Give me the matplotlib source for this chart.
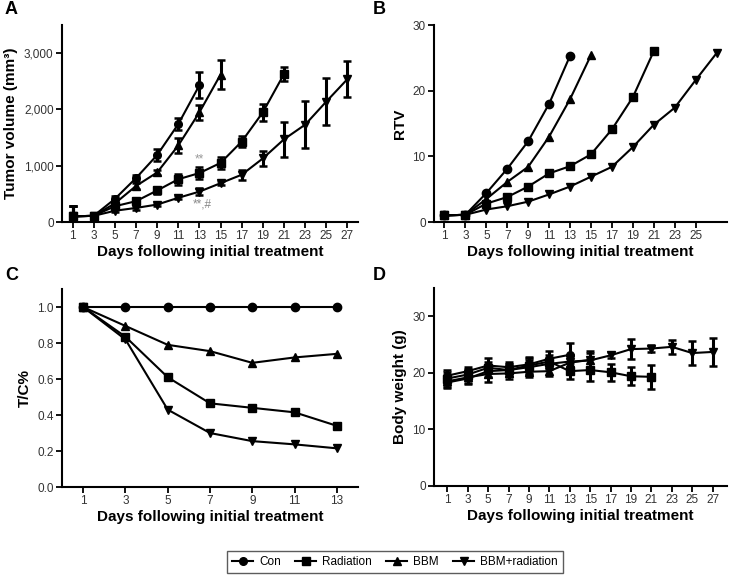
import matplotlib
matplotlib.use("Agg")
import matplotlib.pyplot as plt
from matplotlib.ticker import FuncFormatter
from matplotlib.lines import Line2D

plt.rcParams['font.family'] = ['Liberation Sans', 'DejaVu Sans']

groups = ["Con", "Radiation", "BBM", "BBM+radiation"]
markers = {"Con": "o", "Radiation": "s", "BBM": "^", "BBM+radiation": "v"}

# Panel A: tumor volume (mm3)
a_days = {
    "Con": [1, 3, 5, 7, 9, 11, 13],
    "BBM": [1, 3, 5, 7, 9, 11, 13, 15],
    "Radiation": [1, 3, 5, 7, 9, 11, 13, 15, 17, 19, 21],
    "BBM+radiation": [1, 3, 5, 7, 9, 11, 13, 15, 17, 19, 21, 23, 25, 27],
}
a_mean = {
    "Con": [100, 110, 410, 780, 1190, 1740, 2430],
    "BBM": [100, 110, 330, 640, 880, 1360, 1950, 2620],
    "Radiation": [100, 110, 280, 370, 560, 760, 870, 1050, 1430, 1950, 2630],
    "BBM+radiation": [100, 110, 200, 250, 310, 430, 540, 690, 840, 1130, 1470, 1730, 2140, 2540],
}
a_err = {
    "Con": [180, 30, 50, 60, 100, 100, 230],
    "BBM": [180, 30, 40, 50, 40, 130, 130, 250],
    "Radiation": [180, 30, 40, 60, 70, 100, 110, 100, 100, 150, 120],
    "BBM+radiation": [180, 30, 30, 30, 30, 30, 60, 30, 90, 130, 310, 420, 420, 315],
}

# Panel B: relative tumor volume
b_mean = {
    "Con": [1.0, 1.1, 4.4, 8.1, 12.3, 18.0, 25.3],
    "BBM": [1.0, 1.1, 3.5, 6.1, 8.4, 13.0, 18.7, 25.4],
    "Radiation": [1.0, 1.1, 2.8, 3.8, 5.4, 7.4, 8.5, 10.3, 14.1, 19.0, 26.0],
    "BBM+radiation": [1.0, 1.1, 1.9, 2.4, 3.1, 4.2, 5.4, 6.9, 8.4, 11.4, 14.8, 17.4, 21.6, 25.7],
}

# Panel C: T/C%
c_days = [1, 3, 5, 7, 9, 11, 13]
c_vals = {
    "Con": [1.0, 1.0, 1.0, 1.0, 1.0, 1.0, 1.0],
    "Radiation": [1.0, 0.835, 0.61, 0.465, 0.44, 0.415, 0.34],
    "BBM": [1.0, 0.895, 0.79, 0.755, 0.69, 0.72, 0.74],
    "BBM+radiation": [1.0, 0.82, 0.43, 0.30, 0.255, 0.237, 0.215],
}

# Panel D: body weight (g)
d_mean = {
    "Con": [19.5, 20.3, 21.3, 21.0, 21.5, 22.5, 23.2],
    "BBM": [18.5, 19.2, 19.8, 19.9, 20.2, 20.3, 21.8, 22.3],
    "Radiation": [19.0, 19.7, 20.9, 20.5, 21.3, 22.0, 20.3, 20.5, 20.1, 19.4, 19.3],
    "BBM+radiation": [18.3, 19.0, 20.3, 20.5, 21.0, 21.6, 22.0, 22.2, 23.1, 24.2, 24.3, 24.6, 23.5, 23.7],
}
d_err = {
    "Con": [1.0, 0.8, 1.4, 1.0, 1.2, 1.4, 2.1],
    "BBM": [1.0, 1.0, 1.5, 0.9, 1.0, 0.8, 1.3, 1.5],
    "Radiation": [1.2, 1.0, 1.0, 1.0, 1.5, 1.2, 1.4, 2.0, 1.5, 1.6, 2.1],
    "BBM+radiation": [1.0, 1.0, 1.0, 1.0, 1.2, 1.0, 1.0, 1.3, 0.5, 1.7, 0.7, 1.2, 2.1, 2.4],
}

xlabel = "Days following initial treatment"

fig = plt.figure(figsize=(7.31, 5.75), dpi=100)
axA = fig.add_axes([0.0848, 0.6139, 0.405, 0.3426])
axB = fig.add_axes([0.5937, 0.6139, 0.4008, 0.3426])
axC = fig.add_axes([0.0848, 0.153, 0.405, 0.3443])
axD = fig.add_axes([0.5937, 0.1548, 0.4008, 0.3443])

def style(ax):
    for s in ["top", "right"]:
        ax.spines[s].set_visible(False)
    for s in ["left", "bottom"]:
        ax.spines[s].set_linewidth(1.5)
    ax.tick_params(axis="both", direction="out", width=1.3, length=4,
                   labelsize=8.5, labelcolor="#333333", pad=2)
    ax.set_xlabel(xlabel, fontsize=11, fontweight="bold", labelpad=2)

kw = dict(color="black", lw=1.5, ms=5.5, capsize=3.0, elinewidth=2.2, capthick=1.8)

# A
for g in groups:
    axA.errorbar(a_days[g], a_mean[g], yerr=a_err[g], marker=markers[g], **kw)
axA.set_xlim(0, 28)
axA.set_ylim(0, 3500)
axA.set_xticks(list(range(1, 28, 2)))
axA.set_yticks([0, 1000, 2000, 3000])
axA.yaxis.set_major_formatter(FuncFormatter(lambda v, p: f"{int(v):,}"))
axA.set_ylabel("Tumor volume (mm³)", fontsize=11, fontweight="bold")
style(axA)
axA.text(13, 1000, "**", ha="center", va="bottom", fontsize=8.5, color="#999999")
axA.text(13.3, 420, "**,#", ha="center", va="top", fontsize=8.5, color="#888888")

# B
for g in groups:
    axB.plot(a_days[g], b_mean[g], marker=markers[g], color="black", lw=1.5, ms=6)
axB.set_xlim(0, 28)
axB.set_ylim(0, 30)
axB.set_xticks(list(range(1, 26, 2)))
axB.set_yticks([0, 10, 20, 30])
axB.set_ylabel("RTV", fontsize=11, fontweight="bold")
style(axB)

# C
for g in groups:
    axC.plot(c_days, c_vals[g], marker=markers[g], color="black", lw=1.5, ms=6)
axC.set_xlim(0, 14)
axC.set_ylim(0, 1.1)
axC.set_xticks(c_days)
axC.set_yticks([0.0, 0.2, 0.4, 0.6, 0.8, 1.0])
axC.yaxis.set_major_formatter(FuncFormatter(lambda v, p: f"{v:.1f}"))
axC.set_ylabel("T/C%", fontsize=11, fontweight="bold")
style(axC)

# D
for g in groups:
    axD.errorbar(a_days[g], d_mean[g], yerr=d_err[g], marker=markers[g], **kw)
axD.set_xlim(-0.3, 28.4)
axD.set_ylim(0, 35)
axD.set_xticks(list(range(1, 28, 2)))
axD.set_yticks([0, 10, 20, 30])
axD.set_ylabel("Body weight (g)", fontsize=11, fontweight="bold")
style(axD)

# Panel letters
for x, y, t in [(5, 10, "A"), (373, 10, "B"), (5, 276, "C"), (373, 276, "D")]:
    fig.text(x / 731, 1 - y / 575, t, fontsize=13, fontweight="bold", va="center", ha="left")

# Legend
handles = [Line2D([0], [0], color="black", lw=1.5, marker=markers[g], ms=5.5) for g in groups]
leg = fig.legend(handles, groups, loc="center", bbox_to_anchor=(395 / 731, 1 - 562 / 575),
                 ncol=4, fontsize=8.5, frameon=True, fancybox=False, handlelength=1.8,
                 columnspacing=1.2, handletextpad=0.5, borderpad=0.4)
leg.get_frame().set_edgecolor("#333333")
leg.get_frame().set_linewidth(1.0)

fig.savefig("out.png", dpi=100)
